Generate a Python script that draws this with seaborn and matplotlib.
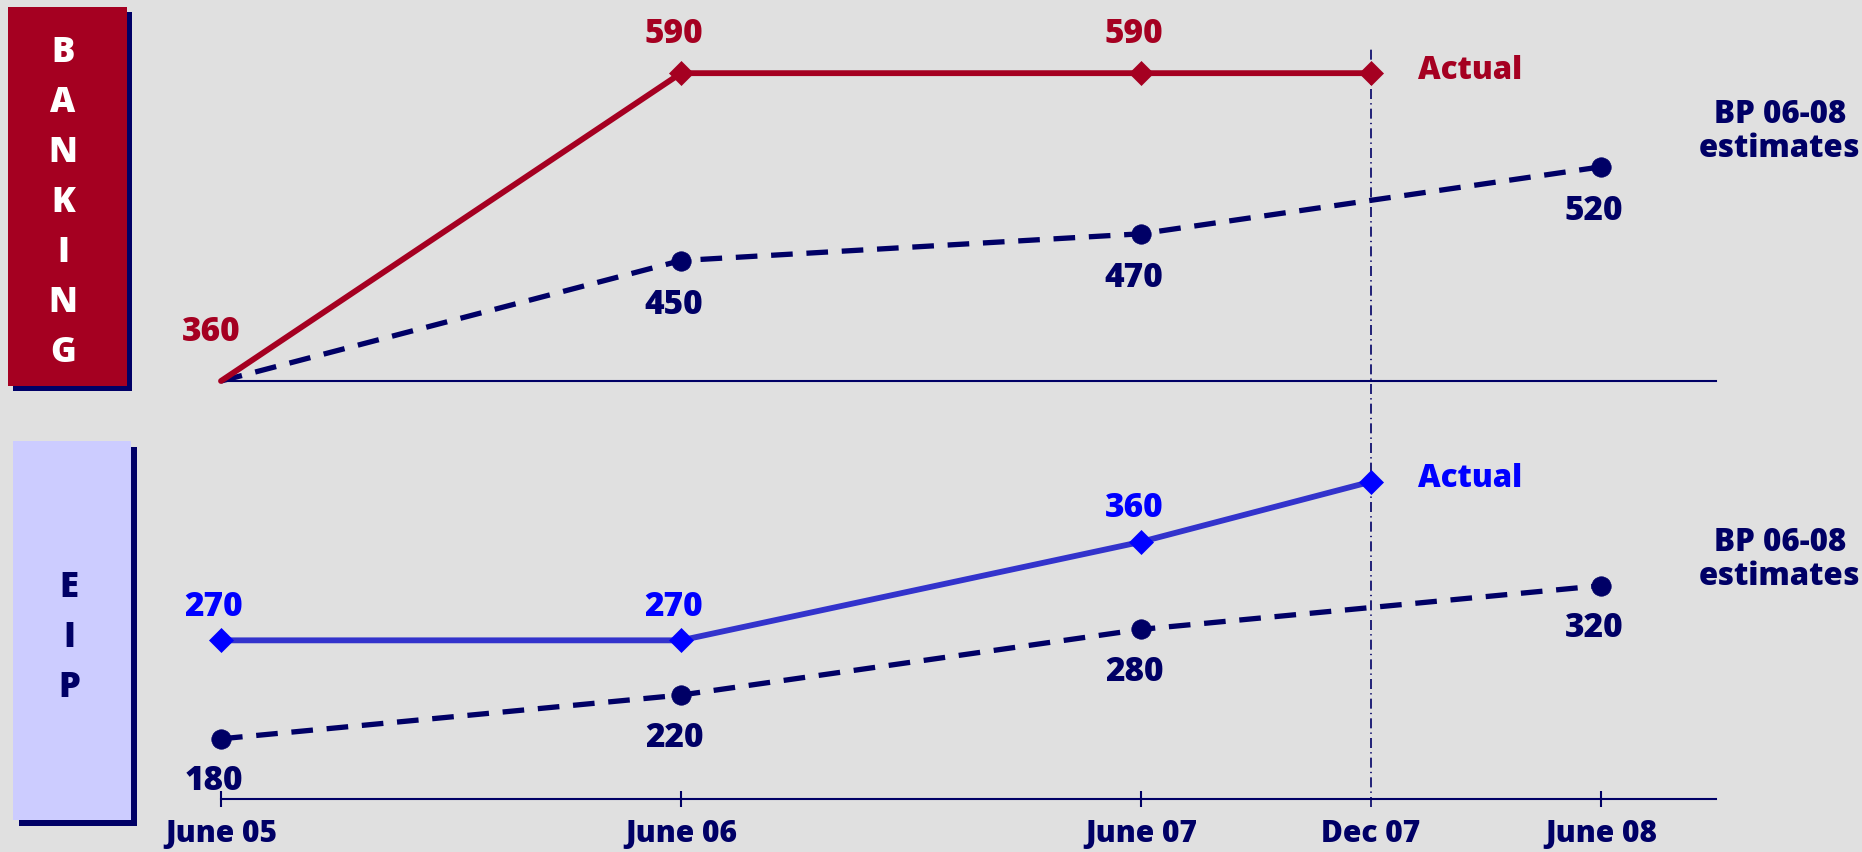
import matplotlib
matplotlib.use("Agg")
import matplotlib.pyplot as plt
from matplotlib.patches import Rectangle
import seaborn as sns
import pandas as pd

# ---------------- data ----------------
tick_months = [0, 12, 24, 30, 36]
tick_labels = ["June 05", "June 06", "June 07", "Dec 07", "June 08"]

bank_actual_x = [0, 12, 24, 30]
bank_actual_y = [360, 590, 590, 590]
bank_actual_lbl = ["360", "590", "590", ""]

bank_bp_x = [0, 12, 24, 36]
bank_bp_y = [360, 450, 470, 520]
bank_bp_lbl = ["", "450", "470", "520"]

eip_actual_x = [0, 12, 24, 30]
eip_actual_y = [270, 270, 360, 415]
eip_actual_lbl = ["270", "270", "360", ""]

eip_bp_x = [0, 12, 24, 36]
eip_bp_y = [180, 220, 280, 320]
eip_bp_lbl = ["180", "220", "280", "320"]

# ---------------- style ----------------
BG = "#e0e0e0"
RED = "#a50021"
NAVY = "#000066"
BLUE = "#0000ff"
BLUE_LINE = "#3333cc"
LAV = "#ccccff"
WEIGHT = "heavy"

sns.set_style("white")
plt.rcParams["font.family"] = ["Open Sans", "DejaVu Sans"]
plt.rcParams["font.weight"] = WEIGHT

W, H = 1862, 853
fig = plt.figure(figsize=(W / 100, H / 100), dpi=100, facecolor=BG)


def fx(px):
    return px / W


def fy(py):
    return 1 - py / H


x_left, x_right = 221, 1716
ax_top = fig.add_axes([fx(x_left), fy(382), fx(x_right - x_left), (382 - 30) / H])
ax_bot = fig.add_axes([fx(x_left), fy(800), fx(x_right - x_left), (800 - 440) / H])

# Dec 07 dash-dot marker line spanning both panels
top_h = 382 - 30
ax_top.axvline(30, ymin=-(808 - 382) / top_h, ymax=(382 - 47) / top_h,
               color=NAVY, lw=1.2, dashes=(6, 2.5, 0.8, 2.5), clip_on=False, zorder=1)


def draw(ax, xs, ys, color, mcolor, marker, ms, ls, markevery, lw):
    df = pd.DataFrame({"x": xs, "y": ys})
    sns.lineplot(data=df, x="x", y="y", ax=ax, color=color, lw=lw, linestyle=ls,
                 marker=marker, markersize=ms, markerfacecolor=mcolor,
                 markeredgecolor=mcolor, markeredgewidth=0.5, markevery=markevery,
                 errorbar=None, clip_on=False, zorder=3)


dash_ls = (0, (4.1, 2.6))

# Banking
draw(ax_top, bank_bp_x, bank_bp_y, NAVY, NAVY, "o", 14, dash_ls, [1, 2, 3], 3.8)
draw(ax_top, bank_actual_x, bank_actual_y, RED, RED, "D", 12, "-", [1, 2, 3], 4.2)
# EIP
draw(ax_bot, eip_bp_x, eip_bp_y, NAVY, NAVY, "o", 14, dash_ls, None, 3.8)
draw(ax_bot, eip_actual_x, eip_actual_y, BLUE_LINE, BLUE, "D", 12, "-", None, 4.2)

for ax in (ax_top, ax_bot):
    ax.set_facecolor("none")
    ax.set_xlim(0, 39)
    for s in ("top", "right", "left"):
        ax.spines[s].set_visible(False)
    ax.spines["bottom"].set_color(NAVY)
    ax.spines["bottom"].set_linewidth(1.5)
    ax.set_yticks([])
    ax.set_ylabel("")
    ax.set_xlabel("")

ax_top.set_ylim(360, 623)
ax_bot.set_ylim(125, 454)

FS = 24


def labels(ax, xs, ys, lbls, color, dy, dx0=0, dy0=None):
    for i, (x, y, t) in enumerate(zip(xs, ys, lbls)):
        if not t:
            continue
        ox, oy = -5, dy
        if i == 0 and dy0 is not None:
            ox, oy = dx0, dy0
        ax.annotate(t, xy=(x, y), xytext=(ox, oy), textcoords="offset points",
                    ha="center", va="center", color=color, fontsize=FS,
                    fontweight=WEIGHT, annotation_clip=False)


labels(ax_top, bank_actual_x, bank_actual_y, bank_actual_lbl, RED, 29, dx0=-7, dy0=36)
labels(ax_top, bank_bp_x, bank_bp_y, bank_bp_lbl, NAVY, -31)
labels(ax_bot, eip_actual_x, eip_actual_y, eip_actual_lbl, BLUE, 25)
labels(ax_bot, eip_bp_x, eip_bp_y, eip_bp_lbl, NAVY, -30)

# "Actual" tags
ax_top.annotate("Actual", xy=(bank_actual_x[-1], bank_actual_y[-1]), xytext=(34, 2),
                textcoords="offset points", ha="left", va="center", color=RED,
                fontsize=22.5, fontweight=WEIGHT, annotation_clip=False)
ax_bot.annotate("Actual", xy=(eip_actual_x[-1], eip_actual_y[-1]), xytext=(34, 3),
                textcoords="offset points", ha="left", va="center", color=BLUE,
                fontsize=22.5, fontweight=WEIGHT, annotation_clip=False)

# BP tags
for yc in (132, 560):
    fig.text(fx(1780), fy(yc), "BP 06-08\nestimates", ha="center", va="center",
             color=NAVY, fontsize=22.5, fontweight=WEIGHT, linespacing=1.08)

# x ticks (bottom panel only)
ax_top.set_xticks([])
ax_bot.set_xticks(tick_months)
ax_bot.set_xticklabels(tick_labels, fontsize=21.5, fontweight=WEIGHT, color=NAVY)
ax_bot.tick_params(axis="x", direction="inout", length=12, width=1.5, color=NAVY,
                   pad=8, bottom=True)
for t, lab in zip(ax_bot.xaxis.get_major_ticks(), tick_labels):
    if lab == "Dec 07":
        t.tick1line.set_visible(False)


# Side boxes
def box(x0, y0, x1, y1, color, shadow_off):
    sx, sy = shadow_off
    fig.patches.append(Rectangle((fx(x0 + sx), fy(y1 + sy)), fx(x1 - x0), (y1 - y0) / H,
                                 transform=fig.transFigure, facecolor=NAVY,
                                 edgecolor="none", zorder=0))
    fig.patches.append(Rectangle((fx(x0), fy(y1)), fx(x1 - x0), (y1 - y0) / H,
                                 transform=fig.transFigure, facecolor=color,
                                 edgecolor="none", zorder=1))


box(8, 8, 127, 387, RED, (5, 5))
box(13, 442, 131, 821, LAV, (6, 6))

for i, ch in enumerate("BANKING"):
    fig.text(fx(63), fy(53 + 50 * i), ch, ha="center", va="center", color="white",
             fontsize=25, fontweight=WEIGHT)
for i, ch in enumerate("EIP"):
    fig.text(fx(69), fy(588 + 50 * i), ch, ha="center", va="center", color=NAVY,
             fontsize=25, fontweight=WEIGHT)

fig.savefig("out.png", dpi=100, facecolor=BG)
